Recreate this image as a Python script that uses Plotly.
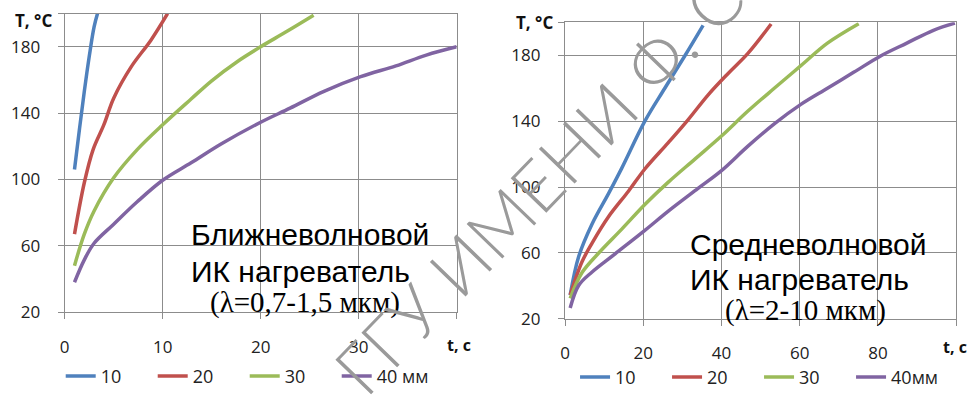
import plotly.graph_objects as go

# ---------------- data ----------------
# Left chart: near-IR heater (lambda = 0.7-1.5 um)
left_t_10 = [1, 1.5, 2, 2.5, 3, 3.35]
left_T_10 = [106, 130, 153, 174, 192, 200]
left_t_20 = [1, 2, 2.9, 4, 5, 6.8, 8.8, 10.5]
left_T_20 = [67, 98, 118, 133, 149, 168, 184, 200]
left_t_30 = [1, 2, 3, 5, 7.4, 10, 12.9, 15, 17.6, 20, 22.6, 25.4]
left_T_30 = [48, 67, 81, 101, 118, 133, 148.5, 159.5, 171, 180, 189, 199]
left_t_40 = [1, 2, 3, 5, 7.4, 10, 12.9, 16, 20, 23, 26.4, 30.2, 33.8, 36.9, 40]
left_T_40 = [38, 51.5, 61.5, 73, 86.5, 99.5, 110, 121.5, 134.5, 143, 153, 162, 168.5, 175, 180]

# Right chart: mid-IR heater (lambda = 2-10 um)
right_t_10 = [1.3, 3.5, 6.9, 11.1, 14.5, 20.4, 25.5, 30.6, 35.3]
right_T_10 = [34.5, 58, 77.6, 96, 111.5, 140, 160, 179.6, 198.2]
right_t_20 = [1.3, 4.3, 6.9, 11.1, 16.2, 20.4, 26.4, 31.5, 36.6, 41.7, 46.7, 52.7]
right_T_20 = [34.5, 54.5, 66, 82, 97.5, 111, 127, 141, 156, 169, 181, 199]
right_t_30 = [1.3, 4.3, 8.6, 14.5, 20.4, 26.4, 33.2, 40, 46.7, 53.5, 60.3, 67.1, 75.1]
right_T_30 = [32.5, 48, 60, 74.5, 89.4, 103, 117, 131, 146, 160, 173.7, 187.4, 199.2]
right_t_40 = [1.3, 3.5, 6.9, 12.8, 20.4, 26.4, 34, 40, 46.7, 53.5, 60.3, 67.1, 73.9, 80.7, 87.4, 94.2, 99.7]
right_T_40 = [26.6, 40.4, 48.5, 59.5, 73.7, 85.4, 99.2, 110, 124.7, 138.4, 150.2, 160, 169.8, 179.6, 187.4, 195.2, 199.5]

left_names = ["10", "20", "30", "40 мм"]
right_names = ["10", "20", "30", "40мм"]
colors = ["#4F81BD", "#C0504D", "#9BBB59", "#8064A2"]

left_x_ticks = [0, 10, 20, 30, 40]
left_x_text = ["0", "10", "20", "30", ""]
right_x_ticks = [0, 20, 40, 60, 80, 100]
right_x_text = ["0", "20", "40", "60", "80", ""]
y_ticks = [20, 60, 100, 140, 180, 200]
y_text = ["20", "60", "100", "140", "180", ""]

W, H = 969, 396
def px(v):
    return v / W
def py(v):
    return 1 - v / H

fig = go.Figure()

left_series = [(left_t_10, left_T_10), (left_t_20, left_T_20), (left_t_30, left_T_30), (left_t_40, left_T_40)]
right_series = [(right_t_10, right_T_10), (right_t_20, right_T_20), (right_t_30, right_T_30), (right_t_40, right_T_40)]

for (t, T), name, c in zip(left_series, left_names, colors):
    fig.add_trace(go.Scatter(x=t, y=T, name=name, mode="lines",
                             line=dict(color=c, width=3.5, shape="spline", smoothing=1.0),
                             xaxis="x", yaxis="y", legend="legend"))
for (t, T), name, c in zip(right_series, right_names, colors):
    fig.add_trace(go.Scatter(x=t, y=T, name=name, mode="lines",
                             line=dict(color=c, width=3.5, shape="spline", smoothing=1.0),
                             xaxis="x2", yaxis="y2", legend="legend2"))

grid = "#8c8c8c"
tickfont = dict(family="Open Sans, Arial, sans-serif", size=17, color="#222222")
common = dict(showgrid=True, gridcolor=grid, gridwidth=1.3, showline=True, linecolor=grid,
              linewidth=1.3, mirror=True, ticks="outside", ticklen=6, tickcolor=grid, tickwidth=1.3,
              zeroline=False, tickfont=tickfont, fixedrange=True)

legfont = dict(family="Open Sans, Arial, sans-serif", size=18, color="#222222")
fig.update_layout(
    width=W, height=H,
    margin=dict(l=0, r=0, t=0, b=0),
    paper_bgcolor="white", plot_bgcolor="white",
    xaxis=dict(domain=[px(60), px(454)], range=[0, 40], anchor="y",
               tickvals=left_x_ticks, ticktext=left_x_text, ticklabelstandoff=13, **common),
    yaxis=dict(domain=[py(321), py(14)], range=[20, 200], anchor="x",
               tickvals=y_ticks, ticktext=y_text, ticklabelstandoff=14, **common),
    xaxis2=dict(domain=[px(563), px(956)], range=[0, 100], anchor="y2",
                tickvals=right_x_ticks, ticktext=right_x_text, ticklabelstandoff=13, **common),
    yaxis2=dict(domain=[py(328), py(23)], range=[20, 200], anchor="x2",
                tickvals=y_ticks, ticktext=y_text, ticklabelstandoff=14, **common),
    legend=dict(orientation="h", x=px(56), y=py(387), xanchor="left", yanchor="middle",
                font=legfont, bgcolor="rgba(0,0,0,0)", entrywidth=47, itemwidth=30),
    legend2=dict(orientation="h", x=px(573), y=py(388), xanchor="left", yanchor="middle",
                 font=legfont, bgcolor="rgba(0,0,0,0)", entrywidth=47, itemwidth=30),
    showlegend=True,
)

bold = dict(family="Open Sans, Arial, sans-serif", size=17, color="#111111", weight="bold")
bold_t = dict(family="Open Sans, Arial, sans-serif", size=16, color="#111111", weight="bold")
def note(text, x, y, font, xa="center", ya="middle", **kw):
    return dict(text=text, x=px(x), y=py(y), xref="paper", yref="paper", showarrow=False,
                xanchor=xa, yanchor=ya, font=font, **kw)

ann = []
ann.append(note("T, °C", 29, 21, bold))
ann.append(note("T, °C", 532, 23, bold))
ann.append(note("t, c", 456, 355, bold_t))
ann.append(note("t, c", 955, 357, bold_t))

sans = dict(family="Liberation Sans, Arial, sans-serif", size=30, color="black")
serif = dict(family="Liberation Serif, Times New Roman, serif", size=29, color="black")
ann.append(note("Ближневолновой", 185, 241, sans, xa="left"))
ann.append(note("ИК нагреватель", 185, 279, sans, xa="left"))
ann.append(note("(λ=0,7-1,5 мкм)", 302, 311, serif))
ann.append(note("Средневолновой", 687, 251, sans, xa="left"))
ann.append(note("ИК нагреватель", 687, 287, sans, xa="left"))
ann.append(note("(λ=2-10 мкм)", 805, 319, serif))

# watermark
ann.append(note("ГГУ ИМЕНИ Ф. СКОРИНЫ", 642, 75,
                dict(family="Lato, Noto Sans, sans-serif", size=70, color="#9a9a9a", weight=300),
                textangle=-46))

fig.update_layout(annotations=ann)

fig.write_html("out.html", config={"displayModeBar": False},
               post_script="document.body.style.margin='0';")
